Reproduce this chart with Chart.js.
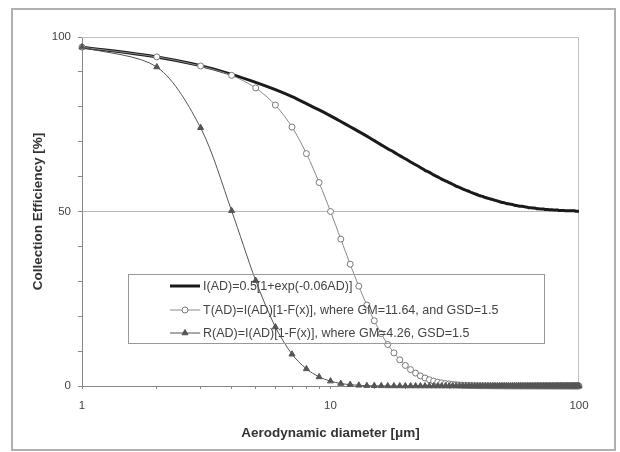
<!DOCTYPE html>
<html>
<head>
<meta charset="utf-8">
<script src="https://cdn.jsdelivr.net/npm/chart.js@4/dist/chart.umd.min.js"></script>
<style>
  html, body { margin: 0; padding: 0; background: #fff; }
  #wrap { width: 620px; height: 452px; }
</style>
</head>
<body>
<div id="wrap"><canvas id="effChart" width="620" height="452"></canvas></div>
<script>
// aerodynamic diameter (um)
const diameters = [
  1, 2, 3, 4, 5, 6, 7, 8, 9, 10,
  11, 12, 13, 14, 15, 16, 17, 18, 19, 20,
  21, 22, 23, 24, 25, 26, 27, 28, 29, 30,
  31, 32, 33, 34, 35, 36, 37, 38, 39, 40,
  41, 42, 43, 44, 45, 46, 47, 48, 49, 50,
  51, 52, 53, 54, 55, 56, 57, 58, 59, 60,
  61, 62, 63, 64, 65, 66, 67, 68, 69, 70,
  71, 72, 73, 74, 75, 76, 77, 78, 79, 80,
  81, 82, 83, 84, 85, 86, 87, 88, 89, 90,
  91, 92, 93, 94, 95, 96, 97, 98, 99, 100
];

// I(AD) - inhalable
const inhalable = [
  97.1, 94.3, 91.8, 89.3, 87.0, 84.9, 82.9, 80.9, 79.1, 77.4,
  75.8, 74.3, 72.9, 71.6, 70.3, 69.1, 68.0, 67.0, 66.0, 65.1,
  64.2, 63.4, 62.6, 61.8, 61.2, 60.5, 59.9, 59.3, 58.8, 58.3,
  57.8, 57.3, 56.9, 56.5, 56.1, 55.8, 55.4, 55.1, 54.8, 54.5,
  54.3, 54.0, 53.8, 53.6, 53.4, 53.2, 53.0, 52.8, 52.6, 52.5,
  52.3, 52.2, 52.1, 52.0, 51.8, 51.7, 51.6, 51.5, 51.5, 51.4,
  51.3, 51.2, 51.1, 51.1, 51.0, 51.0, 50.9, 50.8, 50.8, 50.7,
  50.7, 50.7, 50.6, 50.6, 50.6, 50.5, 50.5, 50.5, 50.4, 50.4,
  50.4, 50.4, 50.3, 50.3, 50.3, 50.3, 50.3, 50.2, 50.2, 50.2,
  50.2, 50.2, 50.2, 50.2, 50.2, 50.2, 50.1, 50.1, 50.1, 50.1
];

// T(AD) - thoracic
const thoracic = [
  97.1, 94.3, 91.7, 89.0, 85.4, 80.5, 74.2, 66.6, 58.3, 50.0,
  42.1, 34.9, 28.6, 23.2, 18.7, 15.0, 11.9, 9.5, 7.5, 5.9,
  4.7, 3.7, 2.9, 2.3, 1.8, 1.4, 1.1, 0.9, 0.7, 0.6,
  0.45, 0.36, 0.29, 0.23, 0.19, 0.15, 0.12, 0.10, 0.08, 0.06,
  0.05, 0.04, 0.03, 0.03, 0.02, 0.02, 0.01, 0.01, 0.01, 0.01,
  0, 0, 0, 0, 0, 0, 0, 0, 0, 0,
  0, 0, 0, 0, 0, 0, 0, 0, 0, 0,
  0, 0, 0, 0, 0, 0, 0, 0, 0, 0,
  0, 0, 0, 0, 0, 0, 0, 0, 0, 0,
  0, 0, 0, 0, 0, 0, 0, 0, 0, 0
];

// R(AD) - respirable
const respirable = [
  97.1, 91.4, 74.0, 50.2, 30.2, 16.9, 9.1, 4.9, 2.6, 1.4,
  0.7, 0.4, 0.2, 0.1, 0.07, 0.04, 0.02, 0.01, 0.01, 0,
  0, 0, 0, 0, 0, 0, 0, 0, 0, 0,
  0, 0, 0, 0, 0, 0, 0, 0, 0, 0,
  0, 0, 0, 0, 0, 0, 0, 0, 0, 0,
  0, 0, 0, 0, 0, 0, 0, 0, 0, 0,
  0, 0, 0, 0, 0, 0, 0, 0, 0, 0,
  0, 0, 0, 0, 0, 0, 0, 0, 0, 0,
  0, 0, 0, 0, 0, 0, 0, 0, 0, 0,
  0, 0, 0, 0, 0, 0, 0, 0, 0, 0
];

const seriesLabels = [
  'I(AD)=0.5[1+exp(-0.06AD)]',
  'T(AD)=I(AD)[1-F(x)], where GM=11.64, and GSD=1.5',
  'R(AD)=I(AD)[1-F(x)], where GM=4.26, GSD=1.5'
];

const xTickLabels = [1, 10, 100];
const yTickLabels = [0, 50, 100];

const FONT = '"Liberation Sans", Arial, sans-serif';

function toPoints(values) {
  return diameters.map((d, i) => ({ x: d, y: values[i] }));
}

// white background + outer chart frame
const framePlugin = {
  id: 'frame',
  beforeDraw(chart) {
    const c = chart.ctx;
    c.save();
    c.fillStyle = '#fff';
    c.fillRect(0, 0, chart.width, chart.height);
    c.strokeStyle = '#b0b0b0';
    c.lineWidth = 2;
    c.strokeRect(12, 9, 603, 441);
    c.restore();
  },
  beforeDatasetsDraw(chart) {
    // plot area border (top & right)
    const a = chart.chartArea;
    const c = chart.ctx;
    c.save();
    c.strokeStyle = '#c0c0c0';
    c.lineWidth = 1;
    c.beginPath();
    c.moveTo(a.left, a.top + 0.5);
    c.lineTo(a.right - 0.5, a.top + 0.5);
    c.lineTo(a.right - 0.5, a.bottom);
    c.stroke();
    c.restore();
  }
};

// boxed legend inside plot area, no fill like the original
const boxLegend = {
  id: 'boxLegend',
  afterDatasetsDraw(chart) {
    const c = chart.ctx;
    c.save();
    c.strokeStyle = '#999';
    c.lineWidth = 1;
    c.strokeRect(128.5, 274.5, 416, 69);
    c.font = '12.5px ' + FONT;
    c.textBaseline = 'middle';
    const rows = [286, 310, 333];
    chart.data.datasets.forEach((ds, i) => {
      const y = rows[i];
      c.strokeStyle = ds.borderColor;
      c.lineWidth = ds.borderWidth;
      c.beginPath();
      c.moveTo(170, y);
      c.lineTo(200, y);
      c.stroke();
      if (ds.pointRadius > 0) {
        c.fillStyle = ds.pointBackgroundColor;
        c.strokeStyle = ds.pointBorderColor;
        c.lineWidth = 1;
        Chart.helpers.drawPoint(c, { pointStyle: ds.pointStyle, radius: ds.pointRadius, rotation: 0, borderWidth: 1 }, 185, y);
      }
      c.fillStyle = '#444';
      c.fillText(ds.label, 203, y + 1);
    });
    c.restore();
  }
};

const ctx = document.getElementById('effChart').getContext('2d');
const effChart = new Chart(ctx, {
  type: 'line',
  data: {
    datasets: [{
      label: seriesLabels[0],
      data: toPoints(inhalable),
      borderColor: '#1a1a1a',
      borderWidth: 3,
      pointRadius: 0,
      order: 2,
      tension: 0.3
    }, {
      label: seriesLabels[1],
      data: toPoints(thoracic),
      borderColor: '#8a8a8a',
      borderWidth: 1,
      pointStyle: 'circle',
      pointRadius: 3,
      pointBackgroundColor: '#fff',
      pointBorderColor: '#7a7a7a',
      pointBorderWidth: 1,
      clip: false,
      order: 1,
      tension: 0.3
    }, {
      label: seriesLabels[2],
      data: toPoints(respirable),
      borderColor: '#555',
      borderWidth: 1,
      pointStyle: 'triangle',
      pointRadius: 3.5,
      pointBackgroundColor: '#555',
      pointBorderColor: '#555',
      pointBorderWidth: 1,
      clip: false,
      order: 0,
      tension: 0.3
    }]
  },
  options: {
    responsive: false,
    animation: false,
    layout: { padding: { left: 0, right: 41, top: 37, bottom: 0 } },
    scales: {
      x: {
        type: 'logarithmic',
        min: 1,
        max: 100,
        afterFit: (scale) => { scale.height = 66; },
        title: {
          display: true,
          text: 'Aerodynamic diameter [μm]',
          color: '#333',
          font: { family: FONT, size: 13.5, weight: 'bold' },
          padding: { top: 0, bottom: 11 }
        },
        grid: {
          drawOnChartArea: false,
          drawTicks: true,
          tickLength: 3,
          tickColor: '#888'
        },
        border: { display: true, color: '#888', width: 1 },
        ticks: {
          autoSkip: false,
          maxRotation: 0,
          padding: 10,
          color: '#444',
          font: { family: FONT, size: 11.5 },
          callback: (v) => xTickLabels.includes(v) ? String(v) : ''
        }
      },
      y: {
        min: 0,
        max: 100,
        afterFit: (scale) => { scale.width = 82; },
        title: {
          display: true,
          text: 'Collection Efficiency [%]',
          color: '#333',
          font: { family: FONT, size: 13.5, weight: 'bold' },
          padding: { top: 30, bottom: 0 }
        },
        grid: {
          color: (c) => (c.tick && c.tick.value === 50) ? '#b8b8b8' : 'rgba(0,0,0,0)',
          drawTicks: true,
          tickLength: 4,
          tickColor: '#888'
        },
        border: { display: true, color: '#888', width: 1 },
        ticks: {
          stepSize: 10,
          padding: 7,
          color: '#444',
          font: { family: FONT, size: 11.5 },
          callback: (v) => yTickLabels.includes(v) ? String(v) : ''
        }
      }
    },
    plugins: {
      legend: { display: false },
      tooltip: { enabled: false }
    }
  },
  plugins: [framePlugin, boxLegend]
});
</script>
</body>
</html>
